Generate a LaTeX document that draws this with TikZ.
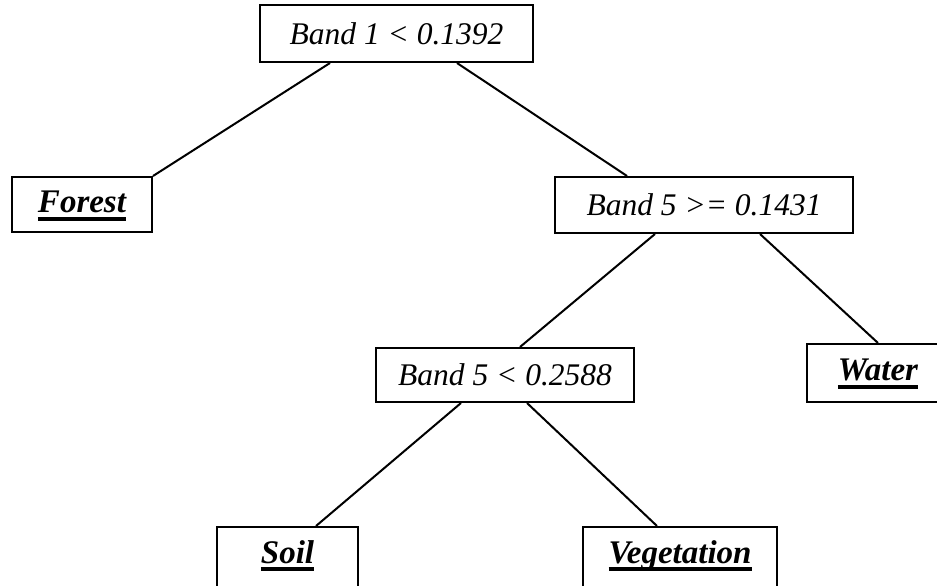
\documentclass[tikz,border=0pt]{standalone}
\usepackage{fontspec}
\setmainfont{Liberation Serif}
% heavy underline for the class names
\newcommand\heavyul[1]{\setbox0=\hbox{#1}\rlap{\rule[-8pt]{\wd0}{4pt}}\box0}
\begin{document}
\begin{tikzpicture}[x=1pt,y=-1pt,
  test/.style={draw, line width=2pt, inner sep=0pt,
    font=\fontsize{31.5}{36}\selectfont\itshape},
  leaf/.style={draw, line width=2pt, inner sep=0pt},
  leaftext/.style={inner sep=0pt, font=\fontsize{33}{38}\selectfont\bfseries\itshape},
  edge/.style={line width=2pt}]
\useasboundingbox (0,0) rectangle (937,586);

% decision nodes
\node[test, minimum width=273pt, minimum height=57pt] (root) at (396.5,33.5) {Band 1 < 0.1392};
\node[test, minimum width=298pt, minimum height=56pt] (b5ge) at (704,205) {Band 5 >= 0.1431};
\node[test, minimum width=258pt, minimum height=54pt] (b5lt) at (505,375) {Band 5 < 0.2588};

% class leaves
\node[leaf, minimum width=140pt, minimum height=55pt,
  label={[leaftext, anchor=center, yshift=-30pt]north:\heavyul{Forest}}] (forest) at (82,204.5) {};
\node[leaf, minimum width=142pt, minimum height=58pt,
  label={[leaftext, anchor=center, yshift=-31pt]north:\heavyul{Water}}] (water) at (878,373) {};
\node[leaf, anchor=north, minimum width=141pt, minimum height=80pt,
  label={[leaftext, anchor=center, yshift=-30pt]north:\heavyul{Soil}}] (soil) at (287.5,526) {};
\node[leaf, anchor=north, minimum width=194pt, minimum height=80pt,
  label={[leaftext, anchor=center, yshift=-30pt]north:\heavyul{Vegetation}}] (veg) at (680,526) {};

% branches
\draw[edge] ([xshift=-66.5pt]root.south) -- (forest.north east);
\draw[edge] ([xshift=60.5pt]root.south) -- ([xshift=-77pt]b5ge.north);
\draw[edge] ([xshift=-49pt]b5ge.south) -- ([xshift=15pt]b5lt.north);
\draw[edge] ([xshift=56pt]b5ge.south) -- (water.north);
\draw[edge] ([xshift=-44pt]b5lt.south) -- ([xshift=28.5pt]soil.north);
\draw[edge] ([xshift=22pt]b5lt.south) -- ([xshift=-23pt]veg.north);
\end{tikzpicture}
\end{document}
